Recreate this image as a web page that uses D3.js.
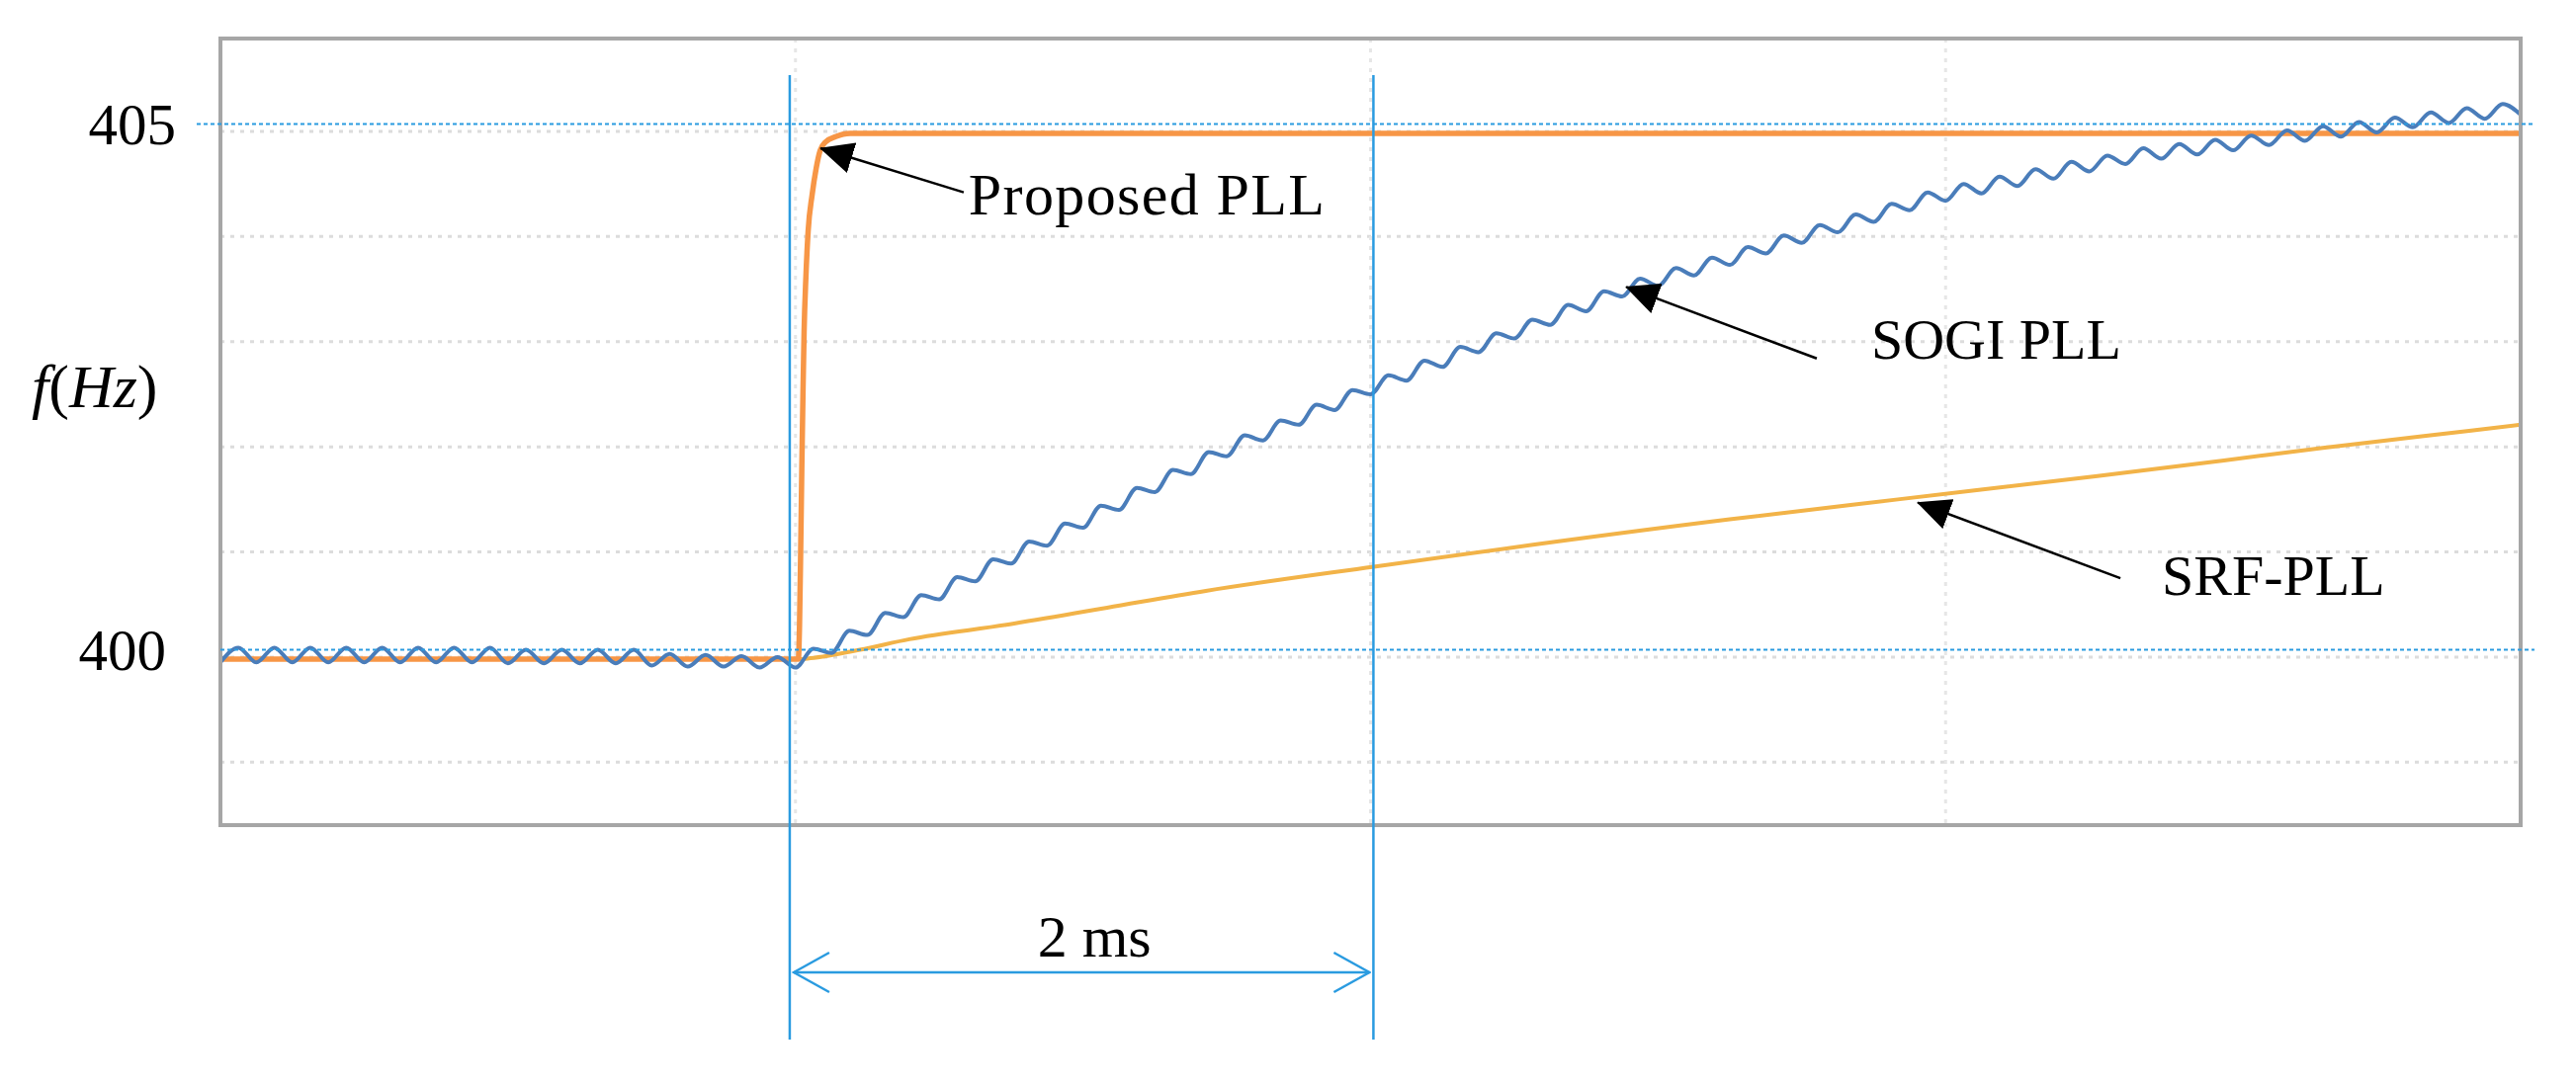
<!DOCTYPE html>
<html>
<head>
<meta charset="utf-8">
<title>PLL frequency step response</title>
<script src="https://cdn.jsdelivr.net/npm/d3@7"></script>
<style>
  html, body { margin: 0; padding: 0; background: #fff; }
  svg { display: block; }
  text { font-family: "Liberation Serif", "Times New Roman", serif; fill: #000; }
</style>
</head>
<body>
<div id="chart"></div>
<script>
// ---- data (time in ms, frequency in Hz) ----

// y grid divisions and x grid divisions
var yGridValues = [399, 400, 401, 402, 403, 404, 405],
    xGridValues = [2, 4, 6],
    yTickLabels = ["400", "405"];

// Proposed PLL: flat, then a very fast rise at the 2 ms step
var proposedT = [0, 2.010, 2.014, 2.018, 2.022, 2.026, 2.030, 2.036, 2.044, 2.058, 2.072, 2.086, 2.105, 2.140, 2.190, 8],
    proposedF = [399.98, 399.98, 400.3, 401.0, 401.8, 402.5, 403.1, 403.6, 404.05, 404.4, 404.65, 404.82, 404.90, 404.95, 404.98, 404.98];

// SRF-PLL: slow ramp after the step
var srfT = [0, 2.011, 2.052, 2.224, 2.396, 2.740, 3.084, 3.427, 4.012, 5.249, 5.834, 6.521, 6.968, 7.312, 7.656, 8],
    srfF = [399.98, 399.98, 399.99, 400.07, 400.17, 400.31, 400.47, 400.63, 400.86, 401.31, 401.50, 401.72, 401.87, 401.99, 402.10, 402.21];

// SOGI PLL: ripple peaks / troughs, one value every half ripple period
var sogiStep = 0.0625;
var sogiF = [
  399.95, 400.09, 399.95, 400.09, 399.95, 400.09, 399.95, 400.09,
  399.95, 400.09, 399.95, 400.09, 399.95, 400.09, 399.95, 400.09,
  399.94, 400.07, 399.94, 400.07, 399.94, 400.07, 399.94, 400.07,
  399.92, 400.03, 399.91, 400.02, 399.91, 400.01, 399.90, 400.00,
  399.90, 400.08, 400.04, 400.25, 400.21, 400.42, 400.38, 400.59,
  400.55, 400.76, 400.72, 400.93, 400.89, 401.10, 401.06, 401.27,
  401.23, 401.44, 401.40, 401.61, 401.57, 401.78, 401.74, 401.95,
  401.91, 402.11, 402.06, 402.25, 402.21, 402.40, 402.35, 402.54,
  402.50, 402.68, 402.63, 402.82, 402.76, 402.95, 402.90, 403.08,
  403.03, 403.21, 403.16, 403.35, 403.29, 403.48, 403.43, 403.60,
  403.53, 403.70, 403.63, 403.80, 403.73, 403.90, 403.84, 404.01,
  403.94, 404.11, 404.04, 404.21, 404.14, 404.31, 404.25, 404.42,
  404.34, 404.50, 404.41, 404.57, 404.48, 404.64, 404.55, 404.71,
  404.62, 404.77, 404.69, 404.84, 404.74, 404.88, 404.78, 404.92,
  404.82, 404.96, 404.87, 405.01, 404.91, 405.05, 404.95, 405.09,
  404.99, 405.13, 405.04, 405.18, 405.08, 405.22, 405.12, 405.26,
  405.16
];

// hand drawn blue markers: two time cursors and two level lines
var cursorTimes = [1.98, 4.01],
    levelValues = [400, 405],
    levelShift  = 0.07;

// callouts: [t, f] of arrow tip, arrow tail and label start
var calloutNames = ["Proposed PLL", "SOGI PLL", "SRF-PLL"],
    calloutTip   = [[2.087, 404.84], [4.889, 403.52], [5.903, 401.47]],
    calloutTail  = [[2.585, 404.42], [5.552, 402.84], [6.608, 400.75]],
    calloutText  = [[2.602, 404.21], [5.741, 402.84], [6.752, 400.59]];

// ---- layout ----
var width  = 2606,
    height = 1100,
    margin = { top: 39, right: 56, bottom: 265, left: 223 };

var x = d3.scaleLinear().domain([0, 8]).range([margin.left, width - margin.right]);
var y = d3.scaleLinear().domain([398.402, 405.883]).range([height - margin.bottom, margin.top]);

var svg = d3.select("#chart").append("svg")
    .attr("width", width)
    .attr("height", height)
    .attr("viewBox", "0 0 " + width + " " + height);

var defs = svg.append("defs");
defs.append("clipPath").attr("id", "plot-clip")
  .append("rect")
    .attr("x", margin.left).attr("y", margin.top)
    .attr("width", x(8) - x(0)).attr("height", y.range()[0] - y.range()[1]);

// filled arrow head for the callouts
defs.append("marker")
    .attr("id", "head")
    .attr("markerUnits", "userSpaceOnUse")
    .attr("viewBox", "0 0 34 32")
    .attr("markerWidth", 34).attr("markerHeight", 32)
    .attr("refX", 33).attr("refY", 16)
    .attr("orient", "auto")
  .append("path")
    .attr("d", "M0,0 L34,16 L0,32 Z")
    .attr("fill", "#000");

// open chevron for the 2 ms dimension
defs.append("marker")
    .attr("id", "chevron")
    .attr("markerUnits", "userSpaceOnUse")
    .attr("viewBox", "0 0 40 44")
    .attr("markerWidth", 40).attr("markerHeight", 44)
    .attr("refX", 38).attr("refY", 22)
    .attr("orient", "auto-start-reverse")
  .append("path")
    .attr("d", "M2,2 L38,22 L2,42")
    .attr("fill", "none")
    .attr("stroke", "#2a9be0")
    .attr("stroke-width", 2.5);

// ---- grid (dotted, very light) ----
var grid = svg.append("g").attr("class", "grid");
grid.selectAll("line.hgrid")
  .data(yGridValues)
  .enter().append("line")
    .attr("class", "hgrid")
    .attr("x1", x(0)).attr("x2", x(8))
    .attr("y1", function(d) { return y(d); })
    .attr("y2", function(d) { return y(d); })
    .attr("stroke", "#dcdcdc")
    .attr("stroke-width", 3)
    .attr("stroke-dasharray", "4,6");

grid.selectAll("line.vgrid")
  .data(xGridValues)
  .enter().append("line")
    .attr("class", "vgrid")
    .attr("x1", function(d) { return x(d); })
    .attr("x2", function(d) { return x(d); })
    .attr("y1", y.range()[1]).attr("y2", y.range()[0])
    .attr("stroke", "#e6e6e6")
    .attr("stroke-width", 3)
    .attr("stroke-dasharray", "4,6");

// ---- traces ----
var line = d3.line()
    .x(function(d) { return x(d[0]); })
    .y(function(d) { return y(d[1]); })
    .curve(d3.curveMonotoneX);

var traces = svg.append("g").attr("clip-path", "url(#plot-clip)");

traces.append("path")
    .datum(srfT.map(function(t, i) { return [t, srfF[i]]; }))
    .attr("d", line)
    .attr("fill", "none")
    .attr("stroke", "#f2b348")
    .attr("stroke-width", 4);

traces.append("path")
    .datum(proposedT.map(function(t, i) { return [t, proposedF[i]]; }))
    .attr("d", line)
    .attr("fill", "none")
    .attr("stroke", "#f79646")
    .attr("stroke-width", 5.5);

traces.append("path")
    .datum(sogiF.map(function(f, i) { return [i * sogiStep, f]; }))
    .attr("d", line)
    .attr("fill", "none")
    .attr("stroke", "#4a7dba")
    .attr("stroke-width", 4);

// ---- frame ----
svg.append("rect")
    .attr("x", x(0)).attr("y", y.range()[1])
    .attr("width", x(8) - x(0)).attr("height", y.range()[0] - y.range()[1])
    .attr("fill", "none")
    .attr("stroke", "#a6a6a6")
    .attr("stroke-width", 4);

// ---- blue markers ----
var blue = "#2a9be0";

svg.selectAll("line.level")
  .data(levelValues)
  .enter().append("line")
    .attr("class", "level")
    .attr("x1", function(d, i) { return i === 1 ? x(0) - 24 : x(0); })
    .attr("x2", x(8) + 14)
    .attr("y1", function(d) { return y(d + levelShift); })
    .attr("y2", function(d) { return y(d + levelShift); })
    .attr("stroke", blue)
    .attr("stroke-width", 2)
    .attr("stroke-dasharray", "4,3");

svg.selectAll("line.cursor")
  .data(cursorTimes)
  .enter().append("line")
    .attr("class", "cursor")
    .attr("x1", function(d) { return x(d); })
    .attr("x2", function(d) { return x(d); })
    .attr("y1", 76).attr("y2", 1052)
    .attr("stroke", blue)
    .attr("stroke-width", 2.5);

// 2 ms dimension arrow
svg.append("line")
    .attr("x1", x(cursorTimes[0]) + 4).attr("x2", x(cursorTimes[1]) - 4)
    .attr("y1", 984).attr("y2", 984)
    .attr("stroke", blue)
    .attr("stroke-width", 2.5)
    .attr("marker-start", "url(#chevron)")
    .attr("marker-end", "url(#chevron)");

svg.append("text")
    .attr("x", (x(cursorTimes[0]) + x(cursorTimes[1])) / 2 + 13)
    .attr("y", 968)
    .attr("text-anchor", "middle")
    .style("font-size", "60px")
    .text("2 ms");

// ---- y labels ----
svg.selectAll("text.ylab")
  .data(yTickLabels)
  .enter().append("text")
    .attr("class", "ylab")
    .attr("x", function(d, i) { return i === 1 ? x(0) - 45 : x(0) - 55; })
    .attr("y", function(d) { return y(+d + levelShift); })
    .attr("dy", "0.34em")
    .attr("text-anchor", "end")
    .style("font-size", "59px")
    .text(function(d) { return d; });

var ytitle = svg.append("text")
    .attr("x", 32).attr("y", 412)
    .style("font-size", "62px");
ytitle.append("tspan").style("font-style", "italic").text("f");
ytitle.append("tspan").text("(");
ytitle.append("tspan").style("font-style", "italic").text("Hz");
ytitle.append("tspan").text(")");

// ---- callouts ----
var callouts = svg.append("g").attr("class", "callouts");
calloutNames.forEach(function(name, i) {
  callouts.append("line")
      .attr("x1", x(calloutTail[i][0])).attr("y1", y(calloutTail[i][1]))
      .attr("x2", x(calloutTip[i][0])).attr("y2", y(calloutTip[i][1]))
      .attr("stroke", "#000")
      .attr("stroke-width", 2.5)
      .attr("marker-end", "url(#head)");

  var label = callouts.append("text")
      .attr("x", x(calloutText[i][0]))
      .attr("y", y(calloutText[i][1]))
      .style("font-size", i === 0 ? "60px" : "58px")
      .text(name);
  if (i === 0) label.attr("textLength", 360).attr("lengthAdjust", "spacing");
});
</script>
</body>
</html>
